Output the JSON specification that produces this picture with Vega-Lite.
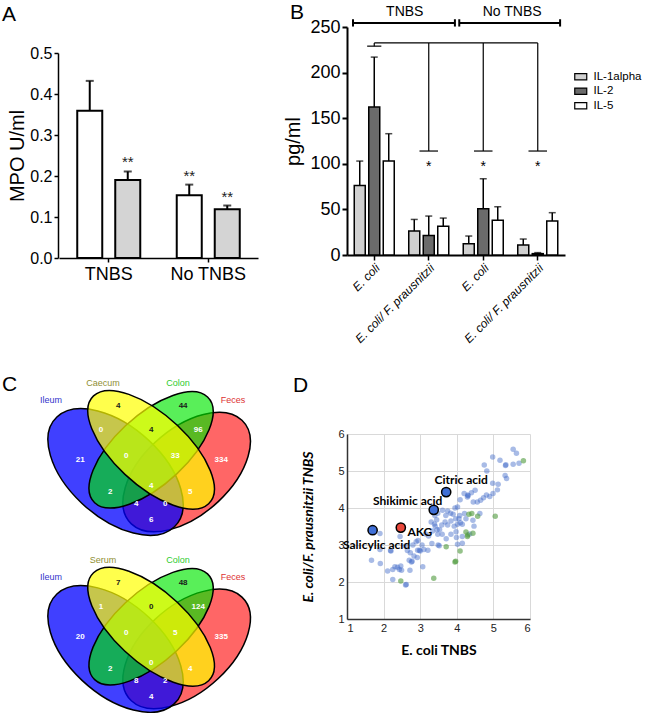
{
  "$schema": "https://vega.github.io/schema/vega-lite/v6.json",
  "padding": {"left": 2, "top": 2, "right": 0, "bottom": 0},
  "background": "white",
  "config": {
    "view": {"stroke": null},
    "font": "Liberation Sans",
    "axis": {"labelFont": "Liberation Sans", "titleFont": "Liberation Sans", "titleFontWeight": "normal", "labelColor": "black", "titleColor": "black", "domainColor": "black", "tickColor": "black", "grid": false},
    "title": {"font": "Liberation Sans", "fontWeight": "normal", "fontSize": 21, "anchor": "start", "frame": "group", "baseline": "alphabetic", "color": "black"}
  },
  "columns": 2,
  "spacing": {"row": 176, "column": 97},
  "bounds": "flush",
  "align": "each",
  "resolve": {"scale": {"x": "independent", "y": "independent", "xOffset": "independent", "fill": "independent", "color": "independent", "size": "independent", "shape": "independent", "opacity": "independent", "fillOpacity": "independent", "strokeWidth": "independent"}},
  "datasets": {
    "mpo": [
      {"group": "TNBS", "treat": "E. coli", "mean": 0.359, "upper": 0.432, "sig": ""},
      {"group": "TNBS", "treat": "E. coli/F. prausnitzii", "mean": 0.190, "upper": 0.211, "sig": "**"},
      {"group": "No TNBS", "treat": "E. coli", "mean": 0.153, "upper": 0.179, "sig": "**"},
      {"group": "No TNBS", "treat": "E. coli/F. prausnitzii", "mean": 0.119, "upper": 0.128, "sig": "**"}
    ],
    "cyto": [
      {"grp": "T1", "cyt": "IL-1alpha", "mean": 76.3, "upper": 103},
      {"grp": "T1", "cyt": "IL-2", "mean": 162.4, "upper": 217},
      {"grp": "T1", "cyt": "IL-5", "mean": 103, "upper": 133},
      {"grp": "T2", "cyt": "IL-1alpha", "mean": 26.3, "upper": 39},
      {"grp": "T2", "cyt": "IL-2", "mean": 21.5, "upper": 42.7},
      {"grp": "T2", "cyt": "IL-5", "mean": 31.4, "upper": 40.5},
      {"grp": "N1", "cyt": "IL-1alpha", "mean": 12.4, "upper": 20.8},
      {"grp": "N1", "cyt": "IL-2", "mean": 50.7, "upper": 83.6},
      {"grp": "N1", "cyt": "IL-5", "mean": 38, "upper": 52.9},
      {"grp": "N2", "cyt": "IL-1alpha", "mean": 11, "upper": 17.5},
      {"grp": "N2", "cyt": "IL-2", "mean": 1.5, "upper": 2.6},
      {"grp": "N2", "cyt": "IL-5", "mean": 37.2, "upper": 46.4}
    ],
    "brk": [
      {"kind": "bracket", "p1": 0.11, "p2": 1.98, "v1": 254.4, "v2": 254.4},
      {"kind": "bracket", "p1": 0.11, "p2": 0.11, "v1": 250.5, "v2": 258.5},
      {"kind": "bracket", "p1": 1.98, "p2": 1.98, "v1": 250.5, "v2": 258.5},
      {"kind": "bracket", "p1": 2.06, "p2": 3.91, "v1": 254.4, "v2": 254.4},
      {"kind": "bracket", "p1": 2.06, "p2": 2.06, "v1": 250.5, "v2": 258.5},
      {"kind": "bracket", "p1": 3.91, "p2": 3.91, "v1": 250.5, "v2": 258.5},
      {"kind": "comp", "p1": 0.5, "p2": 3.5, "v1": 232.5, "v2": 232.5},
      {"kind": "comp", "p1": 0.5, "p2": 0.5, "v1": 229, "v2": 232.5},
      {"kind": "comp", "p1": 0.37, "p2": 0.63, "v1": 229, "v2": 229},
      {"kind": "comp", "p1": 1.5, "p2": 1.5, "v1": 114, "v2": 232.5},
      {"kind": "comp", "p1": 1.33, "p2": 1.67, "v1": 114, "v2": 114},
      {"kind": "comp", "p1": 2.5, "p2": 2.5, "v1": 114, "v2": 232.5},
      {"kind": "comp", "p1": 2.33, "p2": 2.67, "v1": 114, "v2": 114},
      {"kind": "comp", "p1": 3.5, "p2": 3.5, "v1": 114, "v2": 232.5},
      {"kind": "comp", "p1": 3.33, "p2": 3.67, "v1": 114, "v2": 114}
    ],
    "brkText": [
      {"p": 1.06, "v": 266, "t": "TNBS"},
      {"p": 3.03, "v": 266, "t": "No TNBS"},
      {"p": 1.5, "v": 96, "t": "*"},
      {"p": 2.5, "v": 96, "t": "*"},
      {"p": 3.5, "v": 96, "t": "*"}
    ],
    "ell": [
      {"venn": "top", "set": "Feces", "role": "oR", "u": 0.65, "v": 0.47, "z": 0},
      {"venn": "top", "set": "Ileum", "role": "oL", "u": 0.35, "v": 0.47, "z": 1},
      {"venn": "top", "set": "Colon", "role": "iR", "u": 0.5, "v": 0.57, "z": 2},
      {"venn": "top", "set": "Caecum", "role": "iL", "u": 0.5, "v": 0.57, "z": 3},
      {"venn": "bottom", "set": "Feces", "role": "oR", "u": 0.65, "v": -0.327, "z": 4},
      {"venn": "bottom", "set": "Ileum", "role": "oL", "u": 0.35, "v": -0.327, "z": 5},
      {"venn": "bottom", "set": "Colon", "role": "iR", "u": 0.5, "v": -0.227, "z": 6},
      {"venn": "bottom", "set": "Serum", "role": "iL", "u": 0.5, "v": -0.227, "z": 7}
    ],
    "setNames": [
      {"venn": "top", "name": "Ileum", "role": "oL", "u": 0.078, "v": 0.7945},
      {"venn": "top", "name": "Caecum", "role": "iL", "u": 0.297, "v": 0.871},
      {"venn": "top", "name": "Colon", "role": "iR", "u": 0.6135, "v": 0.871},
      {"venn": "top", "name": "Feces", "role": "oR", "u": 0.8456, "v": 0.7945},
      {"venn": "bottom", "name": "Ileum", "role": "oL", "u": 0.078, "v": -0.004},
      {"venn": "bottom", "name": "Serum", "role": "iL", "u": 0.297, "v": 0.072},
      {"venn": "bottom", "name": "Colon", "role": "iR", "u": 0.6135, "v": 0.072},
      {"venn": "bottom", "name": "Feces", "role": "oR", "u": 0.8456, "v": -0.004}
    ],
    "counts": [
      {"venn": "top", "region": "Ca", "n": "4", "u": 0.361, "v": 0.7674},
      {"venn": "top", "region": "Co", "n": "44", "u": 0.635, "v": 0.7674},
      {"venn": "top", "region": "ICa", "n": "0", "u": 0.289, "v": 0.6593},
      {"venn": "top", "region": "CaCo", "n": "4", "u": 0.5, "v": 0.6593},
      {"venn": "top", "region": "CoF", "n": "96", "u": 0.699, "v": 0.6593},
      {"venn": "top", "region": "I", "n": "21", "u": 0.201, "v": 0.5242},
      {"venn": "top", "region": "ICaCo", "n": "0", "u": 0.395, "v": 0.5422},
      {"venn": "top", "region": "CaCoF", "n": "33", "u": 0.602, "v": 0.5422},
      {"venn": "top", "region": "F", "n": "334", "u": 0.796, "v": 0.5242},
      {"venn": "top", "region": "ICo", "n": "2", "u": 0.327, "v": 0.3801},
      {"venn": "top", "region": "ICaCoF", "n": "4", "u": 0.5, "v": 0.4071},
      {"venn": "top", "region": "CaF", "n": "5", "u": 0.665, "v": 0.3801},
      {"venn": "top", "region": "ICoF", "n": "4", "u": 0.437, "v": 0.326},
      {"venn": "top", "region": "ICaF", "n": "0", "u": 0.56, "v": 0.326},
      {"venn": "top", "region": "IF", "n": "6", "u": 0.5, "v": 0.254},
      {"venn": "bottom", "region": "Ca", "n": "7", "u": 0.361, "v": -0.0296},
      {"venn": "bottom", "region": "Co", "n": "48", "u": 0.635, "v": -0.0296},
      {"venn": "bottom", "region": "ICa", "n": "1", "u": 0.289, "v": -0.1377},
      {"venn": "bottom", "region": "CaCo", "n": "0", "u": 0.5, "v": -0.1377},
      {"venn": "bottom", "region": "CoF", "n": "124", "u": 0.699, "v": -0.1377},
      {"venn": "bottom", "region": "I", "n": "20", "u": 0.201, "v": -0.2728},
      {"venn": "bottom", "region": "ICaCo", "n": "0", "u": 0.395, "v": -0.2548},
      {"venn": "bottom", "region": "CaCoF", "n": "5", "u": 0.602, "v": -0.2548},
      {"venn": "bottom", "region": "F", "n": "335", "u": 0.796, "v": -0.2728},
      {"venn": "bottom", "region": "ICo", "n": "2", "u": 0.327, "v": -0.4169},
      {"venn": "bottom", "region": "ICaCoF", "n": "0", "u": 0.5, "v": -0.3899},
      {"venn": "bottom", "region": "CaF", "n": "4", "u": 0.665, "v": -0.4169},
      {"venn": "bottom", "region": "ICoF", "n": "8", "u": 0.437, "v": -0.471},
      {"venn": "bottom", "region": "ICaF", "n": "2", "u": 0.56, "v": -0.471},
      {"venn": "bottom", "region": "IF", "n": "4", "u": 0.5, "v": -0.543}
    ],
    "metab": [
      {"kind": "a", "x": 5.54, "y": 5.59}, {"kind": "a", "x": 5.63, "y": 5.48}, {"kind": "a", "x": 5.70, "y": 5.21}, {"kind": "a", "x": 5.54, "y": 5.18},
      {"kind": "a", "x": 5.33, "y": 5.15}, {"kind": "a", "x": 5.34, "y": 5.17}, {"kind": "a", "x": 5.18, "y": 5.29}, {"kind": "a", "x": 4.98, "y": 5.38},
      {"kind": "a", "x": 4.75, "y": 5.16}, {"kind": "a", "x": 4.82, "y": 5.0}, {"kind": "a", "x": 5.32, "y": 4.88}, {"kind": "a", "x": 5.36, "y": 4.80},
      {"kind": "a", "x": 4.98, "y": 4.67}, {"kind": "a", "x": 5.13, "y": 4.64}, {"kind": "a", "x": 5.11, "y": 4.49}, {"kind": "a", "x": 4.99, "y": 4.39},
      {"kind": "a", "x": 4.90, "y": 4.31}, {"kind": "a", "x": 4.81, "y": 4.35}, {"kind": "a", "x": 4.73, "y": 4.28}, {"kind": "a", "x": 4.65, "y": 4.21},
      {"kind": "a", "x": 4.50, "y": 4.48}, {"kind": "a", "x": 4.40, "y": 4.41}, {"kind": "a", "x": 4.30, "y": 4.35}, {"kind": "a", "x": 4.29, "y": 4.30},
      {"kind": "a", "x": 4.31, "y": 4.33}, {"kind": "a", "x": 4.20, "y": 4.39}, {"kind": "a", "x": 4.09, "y": 4.22}, {"kind": "a", "x": 4.45, "y": 4.16},
      {"kind": "a", "x": 4.56, "y": 4.16}, {"kind": "a", "x": 4.02, "y": 4.03}, {"kind": "a", "x": 3.75, "y": 3.92}, {"kind": "a", "x": 3.61, "y": 3.94},
      {"kind": "a", "x": 3.48, "y": 3.86}, {"kind": "a", "x": 3.90, "y": 3.83}, {"kind": "a", "x": 4.08, "y": 3.80}, {"kind": "a", "x": 4.21, "y": 3.85},
      {"kind": "a", "x": 4.63, "y": 3.85}, {"kind": "a", "x": 3.97, "y": 3.71}, {"kind": "a", "x": 4.06, "y": 3.71}, {"kind": "a", "x": 3.84, "y": 3.65},
      {"kind": "a", "x": 4.25, "y": 3.71}, {"kind": "a", "x": 4.44, "y": 3.67}, {"kind": "a", "x": 4.47, "y": 3.51}, {"kind": "a", "x": 3.68, "y": 3.62},
      {"kind": "a", "x": 3.59, "y": 3.54}, {"kind": "a", "x": 3.45, "y": 3.68}, {"kind": "a", "x": 3.75, "y": 3.54}, {"kind": "a", "x": 3.93, "y": 3.51},
      {"kind": "a", "x": 4.02, "y": 3.56}, {"kind": "a", "x": 4.15, "y": 3.56}, {"kind": "a", "x": 3.53, "y": 3.42}, {"kind": "a", "x": 3.60, "y": 3.29},
      {"kind": "a", "x": 3.48, "y": 3.29}, {"kind": "a", "x": 3.34, "y": 3.38}, {"kind": "a", "x": 3.23, "y": 3.24}, {"kind": "a", "x": 3.71, "y": 3.17},
      {"kind": "a", "x": 3.84, "y": 3.29}, {"kind": "a", "x": 3.99, "y": 3.20}, {"kind": "a", "x": 4.15, "y": 3.23}, {"kind": "a", "x": 4.02, "y": 3.02},
      {"kind": "a", "x": 4.15, "y": 3.05}, {"kind": "a", "x": 3.49, "y": 3.00}, {"kind": "a", "x": 3.52, "y": 2.98}, {"kind": "a", "x": 3.32, "y": 3.04},
      {"kind": "a", "x": 3.21, "y": 2.86}, {"kind": "a", "x": 2.89, "y": 3.09}, {"kind": "a", "x": 2.93, "y": 2.86}, {"kind": "a", "x": 3.00, "y": 2.84},
      {"kind": "a", "x": 2.98, "y": 2.86}, {"kind": "a", "x": 2.73, "y": 2.79}, {"kind": "a", "x": 2.83, "y": 2.70}, {"kind": "a", "x": 2.70, "y": 2.59},
      {"kind": "a", "x": 2.76, "y": 2.54}, {"kind": "a", "x": 2.78, "y": 2.56}, {"kind": "a", "x": 2.92, "y": 2.66}, {"kind": "a", "x": 3.07, "y": 2.41},
      {"kind": "a", "x": 2.72, "y": 2.32}, {"kind": "a", "x": 2.47, "y": 2.43}, {"kind": "a", "x": 2.43, "y": 2.34}, {"kind": "a", "x": 2.49, "y": 2.32},
      {"kind": "a", "x": 2.31, "y": 2.41}, {"kind": "a", "x": 2.25, "y": 2.34}, {"kind": "a", "x": 2.11, "y": 2.30}, {"kind": "a", "x": 2.25, "y": 2.07},
      {"kind": "a", "x": 2.60, "y": 1.92}, {"kind": "a", "x": 1.91, "y": 2.50}, {"kind": "a", "x": 1.67, "y": 2.59}, {"kind": "a", "x": 1.90, "y": 2.88},
      {"kind": "a", "x": 2.20, "y": 2.84}, {"kind": "a", "x": 1.90, "y": 3.31}, {"kind": "a", "x": 2.45, "y": 3.23}, {"kind": "a", "x": 2.59, "y": 2.97},
      {"kind": "a", "x": 3.41, "y": 3.51}, {"kind": "a", "x": 3.05, "y": 3.00}, {"kind": "a", "x": 2.80, "y": 3.00}, {"kind": "a", "x": 2.65, "y": 2.85},
      {"kind": "a", "x": 3.10, "y": 2.88}, {"kind": "a", "x": 3.15, "y": 3.30}, {"kind": "a", "x": 3.40, "y": 3.80}, {"kind": "a", "x": 3.83, "y": 3.86},
      {"kind": "a", "x": 3.70, "y": 3.80}, {"kind": "a", "x": 4.35, "y": 3.30}, {"kind": "a", "x": 3.95, "y": 4.00}, {"kind": "a", "x": 4.10, "y": 3.60},
      {"kind": "a", "x": 2.19, "y": 2.85}, {"kind": "a", "x": 2.62, "y": 1.93}, {"kind": "a", "x": 2.94, "y": 3.12}, {"kind": "a", "x": 3.46, "y": 3.41},
      {"kind": "a", "x": 3.39, "y": 3.57}, {"kind": "a", "x": 3.98, "y": 3.36}, {"kind": "a", "x": 2.38, "y": 2.40}, {"kind": "a", "x": 3.30, "y": 3.62},
      {"kind": "b", "x": 5.82, "y": 5.28}, {"kind": "b", "x": 4.33, "y": 3.83}, {"kind": "b", "x": 4.41, "y": 3.85}, {"kind": "b", "x": 4.57, "y": 3.78},
      {"kind": "b", "x": 5.05, "y": 3.78}, {"kind": "b", "x": 4.25, "y": 3.35}, {"kind": "b", "x": 4.29, "y": 3.23}, {"kind": "b", "x": 4.44, "y": 3.32},
      {"kind": "b", "x": 3.71, "y": 2.95}, {"kind": "b", "x": 4.09, "y": 2.84}, {"kind": "b", "x": 3.95, "y": 2.54}, {"kind": "b", "x": 3.97, "y": 2.56},
      {"kind": "b", "x": 2.47, "y": 2.03}, {"kind": "b", "x": 3.37, "y": 2.10}, {"kind": "b", "x": 4.30, "y": 3.27}
    ],
    "hl": [
      {"name": "Citric acid", "x": 3.71, "y": 4.43},
      {"name": "Shikimic acid", "x": 3.37, "y": 3.95},
      {"name": "Salicylic acid", "x": 1.70, "y": 3.40},
      {"name": "AKG", "x": 2.47, "y": 3.47}
    ]
  },
  "concat": [
    {
      "width": 192,
      "height": 231,
      "title": {"text": "A", "dx": -56, "offset": 2},
      "data": {"name": "mpo"},
      "encoding": {
        "x": {"field": "group", "type": "nominal", "sort": ["TNBS", "No TNBS"], "scale": {"range": [1, 200], "paddingInner": 0, "paddingOuter": 0}, "axis": {"title": null, "labelAngle": 0, "labelFontSize": 18, "tickSize": 4, "tickWidth": 1.5, "domainWidth": 1.5, "labelPadding": 3}},
        "xOffset": {"field": "treat", "type": "nominal", "sort": ["E. coli", "E. coli/F. prausnitzii"], "scale": {"paddingInner": 0.342, "paddingOuter": 0.48}}
      },
      "layer": [
        {
          "mark": {"type": "bar", "stroke": "black", "strokeWidth": 2},
          "encoding": {
            "y": {"field": "mean", "type": "quantitative", "scale": {"domain": [0, 0.5], "range": [231, 26]}, "axis": {"title": "MPO U/ml", "values": [0, 0.1, 0.2, 0.3, 0.4, 0.5], "format": ".1f", "labelFontSize": 16, "titleFontSize": 20, "tickSize": 4, "tickWidth": 1.5, "domainWidth": 1.5, "labelPadding": 2, "titlePadding": 2}},
            "fill": {"field": "treat", "type": "nominal", "scale": {"domain": ["E. coli", "E. coli/F. prausnitzii"], "range": ["white", "#d4d4d4"]}, "legend": null}
          }
        },
        {
          "mark": {"type": "rule", "color": "black", "strokeWidth": 2},
          "encoding": {"y": {"field": "mean", "type": "quantitative", "scale": {"domain": [0, 0.5]}}, "y2": {"field": "upper"}}
        },
        {
          "mark": {"type": "tick", "color": "black", "size": 8, "thickness": 2},
          "encoding": {"y": {"field": "upper", "type": "quantitative", "scale": {"domain": [0, 0.5]}}}
        },
        {
          "mark": {"type": "text", "color": "#222222", "fontSize": 15, "dy": -9, "baseline": "middle"},
          "encoding": {"y": {"field": "upper", "type": "quantitative", "scale": {"domain": [0, 0.5]}}, "text": {"field": "sig"}}
        }
      ]
    },
    {
      "width": 218,
      "height": 228,
      "title": {"text": "B", "dx": -57, "offset": -18},
      "layer": [
        {
          "data": {"name": "cyto"},
          "encoding": {
            "x": {"field": "grp", "type": "nominal", "sort": ["T1", "T2", "N1", "N2"], "scale": {"paddingInner": 0, "paddingOuter": 0}, "axis": {"title": null, "labelAngle": -45, "labelFontSize": 12, "labelFontStyle": "italic", "labelExpr": "(datum.value == 'T1' || datum.value == 'N1') ? 'E. coli' : 'E. coli/ F. prausnitzii'", "tickSize": 5, "tickWidth": 1.5, "domainWidth": 2, "labelPadding": 2}},
            "xOffset": {"field": "cyt", "type": "nominal", "sort": ["IL-1alpha", "IL-2", "IL-5"], "scale": {"paddingInner": 0.241, "paddingOuter": 0.5}}
          },
          "layer": [
            {
              "mark": {"type": "bar", "stroke": "black", "strokeWidth": 1.5},
              "encoding": {
                "y": {"field": "mean", "type": "quantitative", "scale": {"domain": [0, 250], "nice": false}, "axis": {"title": "pg/ml", "values": [0, 50, 100, 150, 200, 250], "labelFontSize": 18, "titleFontSize": 20, "tickSize": 5, "tickWidth": 2, "domainWidth": 2, "labelPadding": 2, "titlePadding": 6}},
                "fill": {"field": "cyt", "type": "nominal", "scale": {"domain": ["IL-1alpha", "IL-2", "IL-5"], "range": ["#d0d0d0", "#6b6b6b", "white"]}, "legend": {"orient": "none", "legendX": 228, "legendY": 44, "title": null, "symbolType": "M-1.5 -0.8H1.5V0.8H-1.5Z", "symbolSize": 64, "symbolStrokeColor": "black", "symbolStrokeWidth": 1.2, "labelFontSize": 11.5, "labelFont": "Liberation Sans", "labelColor": "black", "rowPadding": 1.5, "labelOffset": 7}}
              }
            },
            {
              "mark": {"type": "rule", "color": "black", "strokeWidth": 1.5},
              "encoding": {"y": {"field": "mean", "type": "quantitative", "scale": {"domain": [0, 250], "nice": false}}, "y2": {"field": "upper"}}
            },
            {
              "mark": {"type": "tick", "color": "black", "size": 7, "thickness": 1.5},
              "encoding": {"y": {"field": "upper", "type": "quantitative", "scale": {"domain": [0, 250], "nice": false}}}
            }
          ]
        },
        {
          "encoding": {
            "x": {"field": "p1", "type": "quantitative", "scale": {"domain": [0, 4], "nice": false, "zero": false}, "axis": null}
          },
          "layer": [
            {
              "data": {"name": "brk"},
              "mark": {"type": "rule", "color": "black"},
              "encoding": {
                "x2": {"field": "p2"},
                "y": {"field": "v1", "type": "quantitative", "scale": {"domain": [0, 250], "nice": false}},
                "y2": {"field": "v2"},
                "strokeWidth": {"field": "kind", "type": "nominal", "scale": {"domain": ["bracket", "comp"], "range": [2, 1.2]}, "legend": null}
              }
            },
            {
              "data": {"name": "brkText"},
              "mark": {"type": "text", "color": "black", "fontSize": 14, "baseline": "middle"},
              "encoding": {
                "x": {"field": "p", "type": "quantitative"},
                "y": {"field": "v", "type": "quantitative", "scale": {"domain": [0, 250], "nice": false}},
                "text": {"field": "t"}
              }
            }
          ]
        }
      ],
      "resolve": {"scale": {"x": "independent", "y": "shared"}}
    },
    {
      "width": 192,
      "height": 279,
      "title": {"text": "C", "dx": -56, "offset": -16},
      "layer": [
        {
          "data": {"name": "ell"},
          "mark": {"type": "point", "filled": true, "opacity": 1, "stroke": "black", "strokeWidth": 1.5, "strokeOpacity": 1},
          "encoding": {
            "x": {"field": "u", "type": "quantitative", "scale": {"domain": [0.1072, 0.9173], "nice": false, "zero": false}, "axis": null},
            "y": {"field": "v", "type": "quantitative", "scale": {"domain": [-0.6155, 0.6413], "nice": false, "zero": false}, "axis": null},
            "shape": {"field": "role", "type": "nominal", "scale": {"domain": ["oL", "iL", "iR", "oR"], "range": [
              "M0.7071 0.6626C0.4839 0.8717 -0.0136 0.7445 -0.4041 0.3786C-0.7946 0.0127 -0.9303 -0.4534 -0.7071 -0.6626C-0.4839 -0.8717 0.0136 -0.7445 0.4041 -0.3786C0.7946 -0.0127 0.9303 0.4534 0.7071 0.6626Z",
              "M0.7071 0.6626C0.5296 0.8289 0.0691 0.6671 -0.3214 0.3012C-0.7119 -0.0647 -0.8846 -0.4962 -0.7071 -0.6626C-0.5296 -0.8289 -0.0691 -0.6671 0.3214 -0.3012C0.7119 0.0647 0.8846 0.4962 0.7071 0.6626Z",
              "M-0.7071 0.6626C-0.5296 0.8289 -0.0691 0.6671 0.3214 0.3012C0.7119 -0.0647 0.8846 -0.4962 0.7071 -0.6626C0.5296 -0.8289 0.0691 -0.6671 -0.3214 -0.3012C-0.7119 0.0647 -0.8846 0.4962 -0.7071 0.6626Z",
              "M-0.7071 0.6626C-0.4839 0.8717 0.0136 0.7445 0.4041 0.3786C0.7946 0.0127 0.9303 -0.4534 0.7071 -0.6626C0.4839 -0.8717 -0.0136 -0.7445 -0.4041 -0.3786C-0.7946 -0.0127 -0.9303 0.4534 -0.7071 0.6626Z"
            ]}, "legend": null},
            "size": {"field": "role", "type": "nominal", "scale": {"domain": ["oL", "iL", "iR", "oR"], "range": [27523, 24467, 24467, 27523]}, "legend": null},
            "fill": {"field": "role", "type": "nominal", "scale": {"domain": ["oL", "iL", "iR", "oR"], "range": ["#0000ff", "#ffff00", "#00e600", "#ff0000"]}, "legend": null},
            "fillOpacity": {"field": "role", "type": "nominal", "scale": {"domain": ["oL", "iL", "iR", "oR"], "range": [0.75, 0.6, 0.7, 0.75]}, "legend": null},
            "order": {"field": "z", "type": "quantitative"}
          }
        },
        {
          "data": {"name": "setNames"},
          "mark": {"type": "text", "fontSize": 9, "baseline": "middle"},
          "encoding": {
            "x": {"field": "u", "type": "quantitative"},
            "y": {"field": "v", "type": "quantitative"},
            "text": {"field": "name"},
            "color": {"field": "role", "type": "nominal", "scale": {"domain": ["oL", "iL", "iR", "oR"], "range": ["#3333cc", "#8f8f33", "#2ecc2e", "#dd3333"]}, "legend": null}
          }
        },
        {
          "data": {"name": "counts"},
          "mark": {"type": "text", "fontSize": 8, "fontWeight": "bold", "baseline": "middle"},
          "encoding": {
            "x": {"field": "u", "type": "quantitative"},
            "y": {"field": "v", "type": "quantitative"},
            "text": {"field": "n"},
            "color": {"condition": {"test": "indexof(['Ca','Co','CaCo'], datum.region) >= 0", "value": "#1a1a1a"}, "value": "white"}
          }
        }
      ]
    },
    {
      "width": 183,
      "height": 185,
      "title": {"text": "D", "dx": -54, "offset": 32},
      "encoding": {
        "x": {"field": "x", "type": "quantitative", "scale": {"domain": [1, 6], "nice": false, "zero": false}, "axis": {"title": "E. coli TNBS", "values": [1, 2, 3, 4, 5, 6], "grid": true, "gridColor": "#d9d9d9", "ticks": false, "labelFontSize": 11, "labelColor": "#222", "titleFont": "Lato", "titleFontWeight": "bold", "titleFontSize": 14, "titlePadding": 10, "domainColor": "#333", "domainWidth": 1.5, "labelPadding": 3}},
        "y": {"field": "y", "type": "quantitative", "scale": {"domain": [1, 6], "nice": false, "zero": false}, "axis": {"title": "E. coli/F. prausnitzii TNBS", "values": [1, 2, 3, 4, 5, 6], "grid": true, "gridColor": "#d9d9d9", "ticks": false, "labelFontSize": 11, "labelColor": "#222", "titleFont": "Lato", "titleFontWeight": "bold", "titleFontStyle": "italic", "titleFontSize": 14, "titlePadding": 22, "domainColor": "#333", "domainWidth": 1.5, "labelPadding": 3}}
      },
      "layer": [
        {
          "data": {"name": "metab"},
          "mark": {"type": "circle", "size": 30},
          "encoding": {
            "color": {"field": "kind", "type": "nominal", "scale": {"domain": ["a", "b"], "range": ["#3d68c8", "#4e9a3c"]}, "legend": null},
            "opacity": {"field": "kind", "type": "nominal", "scale": {"domain": ["a", "b"], "range": [0.45, 0.6]}, "legend": null}
          }
        },
        {
          "data": {"name": "hl"},
          "layer": [
            {
              "mark": {"type": "circle", "size": 85, "stroke": "black", "strokeWidth": 1.5, "opacity": 1},
              "encoding": {
                "fill": {"condition": {"test": "datum.name == 'AKG'", "value": "#e8473b"}, "value": "#3f6fd6"}
              }
            },
            {
              "transform": [{"filter": "datum.name == 'Citric acid'"}],
              "mark": {"type": "text", "font": "Lato", "fontWeight": "bold", "fontSize": 12, "dx": 15, "dy": -12, "color": "black"},
              "encoding": {"text": {"field": "name"}}
            },
            {
              "transform": [{"filter": "datum.name == 'Shikimic acid'"}],
              "mark": {"type": "text", "font": "Lato", "fontWeight": "bold", "fontSize": 12, "dx": -26, "dy": -9, "color": "black"},
              "encoding": {"text": {"field": "name"}}
            },
            {
              "transform": [{"filter": "datum.name == 'Salicylic acid'"}],
              "mark": {"type": "text", "font": "Lato", "fontWeight": "bold", "fontSize": 12, "dx": 4, "dy": 15, "color": "black"},
              "encoding": {"text": {"field": "name"}}
            },
            {
              "transform": [{"filter": "datum.name == 'AKG'"}],
              "mark": {"type": "text", "font": "Lato", "fontWeight": "bold", "fontSize": 12, "dx": 19, "dy": 4, "color": "black"},
              "encoding": {"text": {"field": "name"}}
            }
          ]
        }
      ]
    }
  ]
}
